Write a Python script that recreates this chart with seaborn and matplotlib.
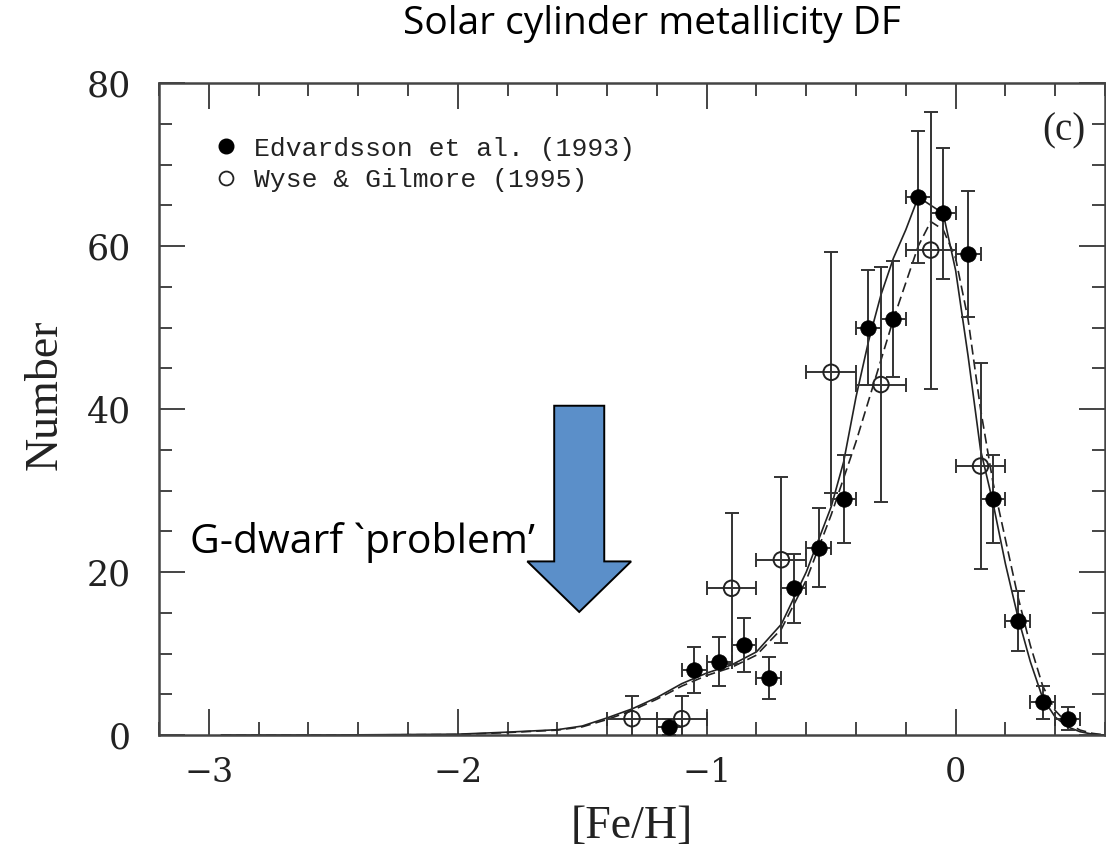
import numpy as np
import matplotlib
matplotlib.use("Agg")
import matplotlib.pyplot as plt
from matplotlib.lines import Line2D
from matplotlib.patches import FancyArrow
from matplotlib.ticker import MultipleLocator
import seaborn as sns

# ---------------- data ----------------
# Edvardsson et al. (1993): filled circles
edv_feh = [-1.15, -1.05, -0.95, -0.85, -0.75, -0.65, -0.55, -0.45, -0.35,
           -0.25, -0.15, -0.05, 0.05, 0.15, 0.25, 0.35, 0.45]
edv_num = [1, 8, 9, 11, 7, 18, 23, 29, 50, 51, 66, 64, 59, 29, 14, 4, 2]
edv_yerr = [1.0, 2.8, 3.0, 3.3, 2.6, 4.2, 4.8, 5.4, 7.1, 7.1, 8.1, 8.0, 7.7,
            5.4, 3.7, 2.0, 1.4]
edv_xerr = [0.05] * len(edv_feh)

# Wyse & Gilmore (1995): open circles
wg_feh = [-1.3, -1.1, -0.9, -0.7, -0.5, -0.3, -0.1, 0.1]
wg_num = [2, 2, 18, 21.5, 44.5, 43, 59.5, 33]
wg_yerr = [2.8, 2.8, 9.3, 10.2, 14.8, 14.4, 17.0, 12.6]
wg_xerr = [0.1] * len(wg_feh)

# model curves
model_solid_x = [-2.95, -2.5, -2.0, -1.8, -1.6, -1.5, -1.4, -1.3, -1.2, -1.1,
                 -1.0, -0.9, -0.8, -0.7, -0.6, -0.5, -0.45, -0.4, -0.35, -0.3,
                 -0.25, -0.2, -0.15, -0.1, -0.05, 0.0, 0.05, 0.1, 0.15, 0.2,
                 0.25, 0.3, 0.35, 0.4, 0.45, 0.5, 0.55, 0.6]
model_solid_y = [0.0, 0.0, 0.1, 0.35, 0.65, 1.1, 2.1, 3.2, 4.6, 6.3,
                 7.6, 8.6, 10.2, 13.6, 20.0, 28.0, 33.5, 41.5, 48.3, 54.0,
                 58.5, 62.0, 66.0, 65.0, 64.0, 57.0, 46.5, 35.0, 28.5, 21.0,
                 14.5, 9.0, 4.5, 2.2, 1.0, 0.4, 0.1, 0.0]
model_dash_x = [-2.95, -2.5, -2.0, -1.8, -1.6, -1.5, -1.4, -1.3, -1.2, -1.1,
                -1.0, -0.9, -0.8, -0.7, -0.6, -0.5, -0.45, -0.4, -0.35, -0.3,
                -0.25, -0.2, -0.15, -0.1, -0.05, 0.0, 0.05, 0.1, 0.15, 0.2,
                0.25, 0.3, 0.35, 0.4, 0.45, 0.5, 0.55, 0.6]
model_dash_y = [0.0, 0.0, 0.05, 0.3, 0.6, 1.0, 1.9, 3.0, 4.4, 6.0,
                7.3, 8.3, 9.8, 13.0, 19.0, 27.0, 31.5, 36.0, 41.0, 46.0,
                51.0, 55.5, 60.0, 63.0, 62.0, 58.5, 51.0, 40.0, 31.0, 24.0,
                17.0, 11.0, 6.0, 3.0, 1.4, 0.6, 0.2, 0.0]

x_ticks = [-3, -2, -1, 0]
y_ticks = [0, 20, 40, 60, 80]
legend_labels = ["Edvardsson et al. (1993)", "Wyse & Gilmore (1995)"]
title_text = "Solar cylinder metallicity DF"
note_text = "G-dwarf `problem\u2019"

# ---------------- style ----------------
sns.set_style("ticks")
plt.rcParams["font.family"] = ["DejaVu Serif"]

W, H = 1106, 857
fig = plt.figure(figsize=(W / 100, H / 100), dpi=100)
ax = fig.add_axes([159 / W, 1 - 735 / H, 946 / W, 652 / H])

ink = "#222222"
ebar = "#333333"

# model curves
sns.lineplot(x=model_solid_x, y=model_solid_y, ax=ax, color=ink, lw=1.2,
             sort=False, estimator=None, zorder=2)
sns.lineplot(x=model_dash_x, y=model_dash_y, ax=ax, color=ink, lw=1.2,
             sort=False, estimator=None, linestyle=(0, (6, 3)), zorder=2)

# error bars
ax.errorbar(wg_feh, wg_num, xerr=wg_xerr, yerr=wg_yerr, fmt="none",
            ecolor=ebar, elinewidth=1.4, capsize=4.7, capthick=1.4, zorder=3)
ax.errorbar(edv_feh, edv_num, xerr=edv_xerr, yerr=edv_yerr, fmt="none",
            ecolor=ebar, elinewidth=1.4, capsize=4.7, capthick=1.4, zorder=3)

# points
sns.scatterplot(x=wg_feh, y=wg_num, ax=ax, marker="o", s=125,
                facecolor="none", edgecolor=ink, linewidth=1.4, zorder=4)
sns.scatterplot(x=edv_feh, y=edv_num, ax=ax, marker="o", s=125,
                color="black", edgecolor="black", linewidth=0.5, zorder=5)

# axes
ax.set_xlim(-3.2, 0.6)
ax.set_ylim(0, 80)
ax.set_xticks(x_ticks)
ax.set_xticklabels(["\u22123", "\u22122", "\u22121", "0"])
ax.set_yticks(y_ticks)
ax.xaxis.set_minor_locator(MultipleLocator(0.2))
ax.yaxis.set_minor_locator(MultipleLocator(5))
ax.tick_params(which="both", direction="in", top=True, right=True,
               colors="#444444", width=1.4, labelcolor="#222222")
ax.tick_params(which="major", length=19)
ax.tick_params(which="minor", length=9.5)
ax.tick_params(axis="x", which="major", pad=16, labelsize=24)
ax.tick_params(axis="y", which="major", pad=20, labelsize=25)
for sp in ax.spines.values():
    sp.set_color("#444444")
    sp.set_linewidth(1.8)

ax.set_xlabel("[Fe/H]", fontsize=33, family="Liberation Serif", labelpad=12,
              color="#222222")
ax.set_ylabel("Number", fontsize=33, family="Liberation Serif",
              color="#222222")
ax.yaxis.set_label_coords(-0.098, 0.522)

# legend
handles = [Line2D([], [], marker="o", ls="none", color="black", ms=10.5),
           Line2D([], [], marker="o", ls="none", mfc="none", mec=ink, ms=10,
                  mew=1.3)]
leg = ax.legend(handles, legend_labels, loc="upper left",
                bbox_to_anchor=(0.043, 0.938), frameon=False, borderpad=0,
                handlelength=1.0, handletextpad=0.55, labelspacing=0.28,
                prop={"family": "Liberation Mono", "size": 19})
for t in leg.get_texts():
    t.set_color("#222222")

ax.text(0.979, 0.926, "(c)", transform=ax.transAxes, ha="right", va="center",
        fontsize=28, family="Liberation Serif", color="#222222")

# arrow (annotation)
arrow = FancyArrow(-1.512, 40.4, 0, -25.3, width=0.201, head_width=0.417,
                   head_length=6.2, length_includes_head=True,
                   facecolor="#5B8FC9", edgecolor="black", lw=1.4,
                   clip_on=False, zorder=6)
ax.add_patch(arrow)

fig.text(190 / W, 1 - 553 / H, note_text, fontsize=29.5, family="Open Sans",
         ha="left", va="baseline", color="black")
fig.text(652 / W, 1 - 34 / H, title_text, fontsize=28, family="Open Sans",
         ha="center", va="baseline", color="black")

fig.savefig("out.png", dpi=100)
